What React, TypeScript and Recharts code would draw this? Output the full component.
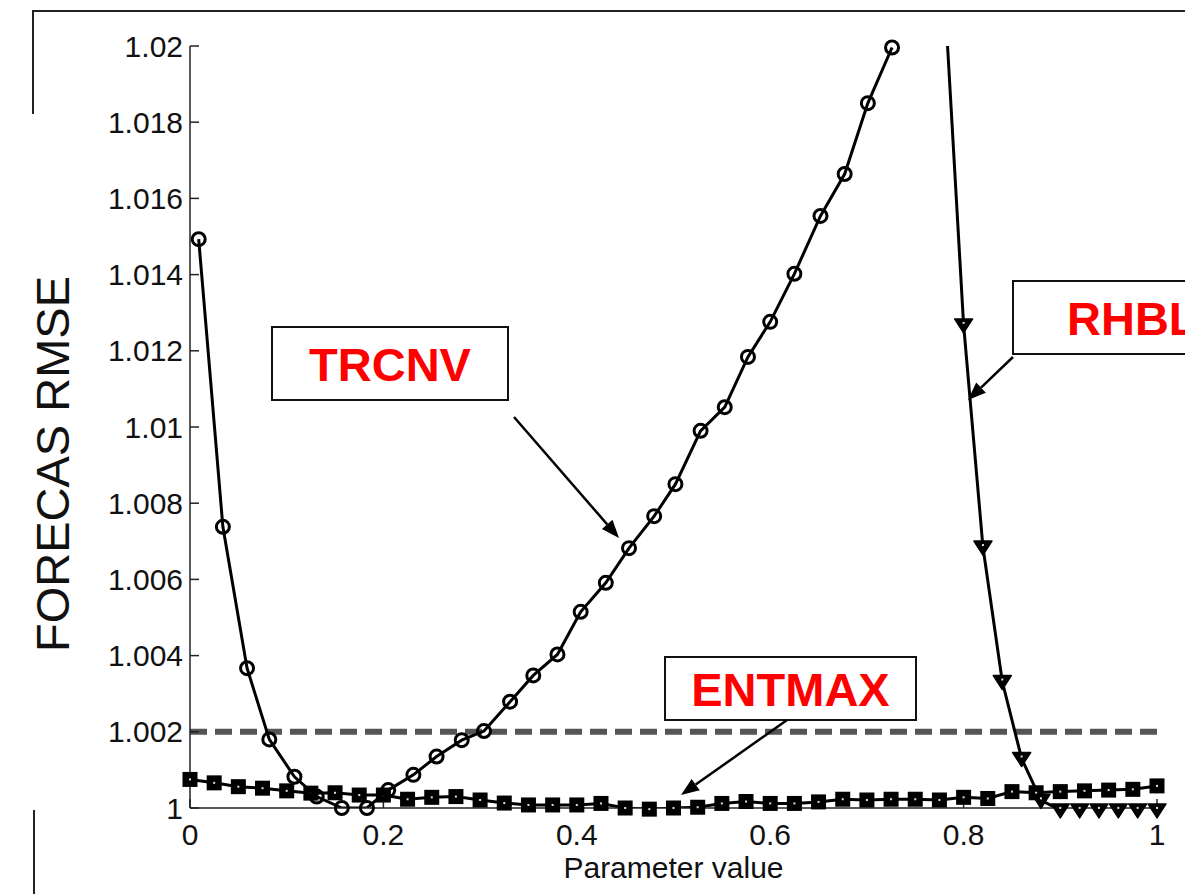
import React from 'react'
import { LineChart, Line, XAxis, YAxis, ReferenceLine } from 'recharts'

// parameter values and RMSE
const trcnvX = [0.009, 0.034, 0.059, 0.082, 0.108, 0.131, 0.157, 0.183, 0.205, 0.231, 0.255, 0.281, 0.304, 0.331, 0.355, 0.38, 0.404, 0.43, 0.454, 0.48, 0.502, 0.528, 0.553, 0.577, 0.6, 0.625, 0.652, 0.677, 0.701, 0.726]
const trcnvY = [1.01493, 1.00738, 1.00367, 1.0018, 1.00082, 1.0003, 1.0, 1.0, 1.00047, 1.00087, 1.00135, 1.00178, 1.00202, 1.00279, 1.00348, 1.00403, 1.00515, 1.00591, 1.00682, 1.00766, 1.0085, 1.0099, 1.01052, 1.01184, 1.01276, 1.01402, 1.01554, 1.01664, 1.0185, 1.01996]

const entmaxX = [0, 0.025, 0.05, 0.075, 0.1, 0.125, 0.15, 0.175, 0.2, 0.225, 0.25, 0.275, 0.3, 0.325, 0.35, 0.375, 0.4, 0.425, 0.45, 0.475, 0.5, 0.525, 0.55, 0.575, 0.6, 0.625, 0.65, 0.675, 0.7, 0.725, 0.75, 0.775, 0.8, 0.825, 0.85, 0.875, 0.9, 0.925, 0.95, 0.975, 1]
const entmaxY = [1.00075, 1.00066, 1.00056, 1.00052, 1.00045, 1.00039, 1.0004, 1.00034, 1.00034, 1.00023, 1.00028, 1.0003, 1.00021, 1.00013, 1.00008, 1.00008, 1.00008, 1.00012, 1.0, 0.99997, 1.0, 1.00002, 1.00012, 1.00017, 1.00012, 1.00012, 1.00016, 1.00023, 1.00021, 1.00023, 1.00023, 1.00021, 1.00028, 1.00025, 1.00043, 1.0004, 1.00043, 1.00045, 1.00047, 1.00049, 1.00058]

const rhblX = [0.78, 0.8, 0.82, 0.84, 0.86, 0.88, 0.9, 0.92, 0.94, 0.96, 0.98, 1]
const rhblY = [1.0215, 1.01268, 1.00685, 1.00332, 1.0013, 1.0002, 0.99995, 0.99995, 0.99995, 0.99995, 0.99995, 0.99995]

const xTicks = [0, 0.2, 0.4, 0.6, 0.8, 1]
const yTicks = [1, 1.002, 1.004, 1.006, 1.008, 1.01, 1.012, 1.014, 1.016, 1.018, 1.02]
const threshold = 1.002
const Y_MIN = 1
const Y_MAX = 1.02

const rows = (xs: number[], ys: number[]) => xs.map((x, i) => ({ x, y: ys[i] }))
const trcnv = rows(trcnvX, trcnvY)
const entmax = rows(entmaxX, entmaxY)
const rhbl = rows(rhblX, rhblY)

const FONT = '"Liberation Sans", Arial, sans-serif'
const tickStyle = { fontSize: 30, fill: '#111', fontFamily: FONT }
const axisLine = { stroke: '#222', strokeWidth: 1.5 }
const blank = () => ''

const CircleDot = (p: any) => {
  if (p.payload.y > Y_MAX) return <g key={'c' + p.index} />
  return <circle key={'c' + p.index} cx={p.cx} cy={p.cy} r={6.5} fill="none" stroke="#000" strokeWidth={3} />
}
const SquareDot = (p: any) => (
  <g key={'s' + p.index}>
    <rect x={p.cx - 7.5} y={p.cy - 7.5} width={15} height={15} fill="#000" />
    <rect x={p.cx - 1} y={p.cy - 1} width={2} height={2} fill="#ddd" />
  </g>
)
const TriDot = (p: any) => {
  if (p.payload.y > Y_MAX) return <g key={'t' + p.index} />
  const { cx, cy } = p
  return (
    <g key={'t' + p.index}>
      <path d={`M${cx - 9},${cy - 6} L${cx + 9},${cy - 6} L${cx},${cy + 8} Z`} fill="#000" stroke="#000" strokeWidth={1.5} strokeLinejoin="round" />
      <rect x={cx - 1} y={cy - 3} width={2} height={2} fill="#ddd" />
    </g>
  )
}

function Arrow({ x1, y1, x2, y2 }: { x1: number; y1: number; x2: number; y2: number }) {
  const a = Math.atan2(y2 - y1, x2 - x1)
  const len = 18, hw = 7
  const bx = x2 - len * Math.cos(a), by = y2 - len * Math.sin(a)
  const px = -Math.sin(a) * hw, py = Math.cos(a) * hw
  return (
    <g>
      <line x1={x1} y1={y1} x2={bx} y2={by} stroke="#000" strokeWidth={2.5} />
      <polygon points={`${x2},${y2} ${bx + px},${by + py} ${bx - px},${by - py}`} fill="#000" />
    </g>
  )
}

function Tag({ x, y, w, h, text }: { x: number; y: number; w: number; h: number; text: string }) {
  return (
    <g>
      <rect x={x} y={y} width={w} height={h} fill="#fff" stroke="#111" strokeWidth={2} />
      <text x={x + w / 2} y={y + h / 2 + 17} textAnchor="middle" fontFamily={FONT} fontWeight="bold" fontSize={47} fill="#ff0000">{text}</text>
    </g>
  )
}

export default function App() {
  return (
    <div style={{ position: 'absolute', left: 0, top: 0, width: 1185, height: 894, background: '#fff', overflow: 'hidden' }}>
      <style>{`.recharts-line-dots{clip-path:none !important}`}</style>
      <LineChart width={1185} height={894} margin={{ top: 46, right: 28, bottom: 0, left: 0 }}>
        <XAxis xAxisId="b" dataKey="x" type="number" domain={[0, 1]} ticks={xTicks} interval={0} height={86}
          tickSize={-9} tickMargin={25} tick={tickStyle} axisLine={axisLine} tickLine={axisLine}
          label={{ value: 'Parameter value', position: 'insideBottom', offset: 16, style: { fontSize: 30, fill: '#111', fontFamily: FONT } }} />
        <XAxis xAxisId="t" orientation="top" dataKey="x" type="number" domain={[0, 1]} ticks={xTicks} interval={0} height={0}
          tickSize={-9} tickFormatter={blank} axisLine={axisLine} tickLine={axisLine} />
        <YAxis yAxisId="l" type="number" domain={[Y_MIN, Y_MAX]} allowDataOverflow ticks={yTicks} interval={0} width={190}
          tickSize={-9} tickMargin={16} tick={tickStyle} axisLine={axisLine} tickLine={axisLine} tickFormatter={(v: number) => String(v)} />
        <YAxis yAxisId="r" orientation="right" type="number" domain={[Y_MIN, Y_MAX]} allowDataOverflow ticks={yTicks} interval={0} width={0}
          tickSize={-9} tickFormatter={blank} axisLine={axisLine} tickLine={axisLine} />
        <ReferenceLine xAxisId="b" yAxisId="l" y={threshold} stroke="#555" strokeWidth={6} strokeDasharray="17 8" />
        <Line xAxisId="b" yAxisId="l" data={entmax} dataKey="y" type="linear" stroke="#000" strokeWidth={3} dot={SquareDot} isAnimationActive={false} />
        <Line xAxisId="b" yAxisId="l" data={trcnv} dataKey="y" type="linear" stroke="#000" strokeWidth={3} dot={CircleDot} isAnimationActive={false} />
        <Line xAxisId="b" yAxisId="l" data={rhbl} dataKey="y" type="linear" stroke="#000" strokeWidth={3} dot={TriDot} isAnimationActive={false} />
      </LineChart>
      <svg width={1185} height={894} style={{ position: 'absolute', left: 0, top: 0, pointerEvents: 'none' }}>
        <path d="M33,114 L33,11 L1185,11" fill="none" stroke="#222" strokeWidth={2} />
        <line x1={34} y1={810} x2={34} y2={894} stroke="#222" strokeWidth={2} />
        <text transform="translate(69,464) rotate(-90)" textAnchor="middle" fontFamily={FONT} fontSize={47} fill="#111">FORECAS RMSE</text>
        <Tag x={272} y={327} w={236} h={73} text="TRCNV" />
        <Arrow x1={514} y1={417} x2={619} y2={538} />
        <Tag x={665} y={657} w={251} h={63} text="ENTMAX" />
        <Arrow x1={787} y1={720} x2={681} y2={795} />
        <rect x={1013} y={281} width={200} height={73} fill="#fff" stroke="#111" strokeWidth={2} />
        <text x={1067} y={335} fontFamily={FONT} fontWeight="bold" fontSize={47} fill="#ff0000">RHBL</text>
        <Arrow x1={1013} y1={357} x2={968} y2={400} />
      </svg>
    </div>
  )
}
